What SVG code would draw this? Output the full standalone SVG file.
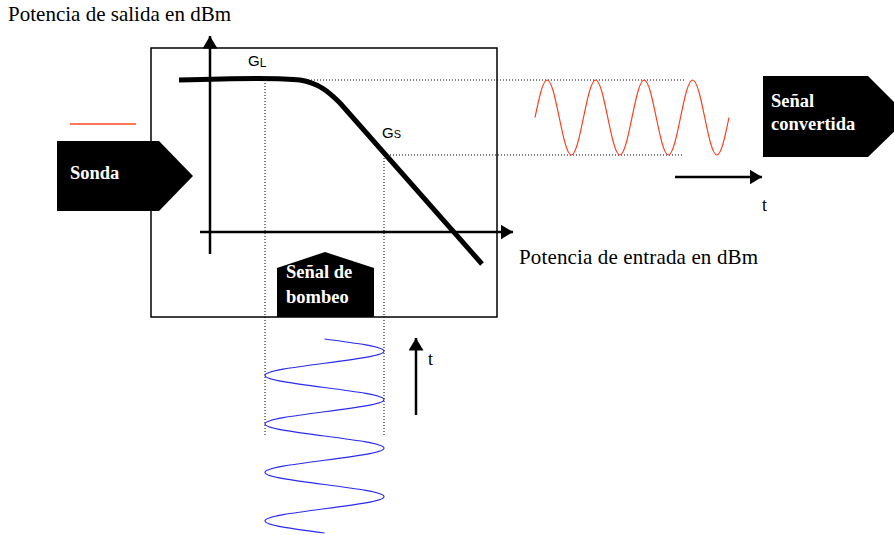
<svg xmlns="http://www.w3.org/2000/svg" width="894" height="535" viewBox="0 0 894 535">
<style>
.serif{font-family:"Liberation Serif","Times New Roman",serif;fill:#000}
.lbl{font-family:"Liberation Serif","Times New Roman",serif;font-weight:bold;font-size:18.5px;fill:#fff}
.sans{font-family:"Liberation Sans","DejaVu Sans",sans-serif;fill:#000}
.dot{stroke:#000;stroke-width:1;stroke-dasharray:1,2;fill:none}
.ax{stroke:#000;stroke-width:2.5;fill:none}
.shape{fill:#000}
</style>
<defs>
<marker id="ah" markerWidth="6" markerHeight="6" refX="5" refY="3" orient="auto" markerUnits="strokeWidth">
<path d="M0,0 L5,3 L0,6 Z" fill="#000"/>
</marker>
</defs>
<rect x="151" y="48" width="346" height="269" fill="none" stroke="#000" stroke-width="1.5"/>
<text class="serif" x="8" y="21" font-size="21" textLength="223">Potencia de salida en dBm</text>
<text class="serif" x="519" y="264" font-size="21" textLength="239">Potencia de entrada en dBm</text>
<g id="connectors">
<line class="dot" x1="305" y1="80" x2="686" y2="80"/>
<line class="dot" x1="384" y1="155" x2="683" y2="155"/>
<line class="dot" x1="265" y1="80" x2="265" y2="437"/>
<line class="dot" x1="384" y1="155" x2="384" y2="437"/>
<line class="ax" x1="210" y1="254" x2="210" y2="36" marker-end="url(#ah)"/>
<line class="ax" x1="200" y1="232" x2="513" y2="232" marker-end="url(#ah)"/>
<line class="ax" x1="675" y1="177" x2="762" y2="177" marker-end="url(#ah)"/>
<line class="ax" x1="416" y1="415" x2="416" y2="338" marker-end="url(#ah)"/>
<path d="M179,80 C240,78 285,78 300,80 C318,83 328,91 340,103 L482,264" fill="none" stroke="#000" stroke-width="5"/>
<line x1="70" y1="124" x2="136" y2="124" stroke="#ff4a1f" stroke-width="1.5"/>
<path d="M535,117.5 c3.954,-19.21 7.737,-37.5 12.125,-37.5 s8.171,18.29 12.125,37.5 s7.737,37.5 12.125,37.5 s8.171,-18.29 12.125,-37.5 s7.737,-37.5 12.125,-37.5 s8.171,18.29 12.125,37.5 s7.737,37.5 12.125,37.5 s8.171,-18.29 12.125,-37.5 s7.737,-37.5 12.125,-37.5 s8.171,18.29 12.125,37.5 s7.737,37.5 12.125,37.5 s8.171,-18.29 12.125,-37.5 s7.737,-37.5 12.125,-37.5 s8.171,18.29 12.125,37.5 s7.737,37.5 12.125,37.5 s8.171,-18.29 12.125,-37.5" fill="none" stroke="#ff3a1a" stroke-width="1.2"/>
<path d="M324.5,339 c30.48,3.954 59.5,7.737 59.5,12.125 s-29.02,8.171 -59.5,12.125 s-59.5,7.737 -59.5,12.125 s29.02,8.171 59.5,12.125 s59.5,7.737 59.5,12.125 s-29.02,8.171 -59.5,12.125 s-59.5,7.737 -59.5,12.125 s29.02,8.171 59.5,12.125 s59.5,7.737 59.5,12.125 s-29.02,8.171 -59.5,12.125 s-59.5,7.737 -59.5,12.125 s29.02,8.171 59.5,12.125 s59.5,7.737 59.5,12.125 s-29.02,8.171 -59.5,12.125 s-59.5,7.737 -59.5,12.125 s29.02,8.171 59.5,12.125" fill="none" stroke="#2b2bef" stroke-width="1.2"/>
</g>
<text class="sans" x="248" y="66" font-size="15">G<tspan font-size="12" dy="1">L</tspan></text>
<text class="sans" x="382" y="138" font-size="15">G<tspan font-size="11" dy="0">S</tspan></text>
<text class="serif" x="762" y="211" font-size="18">t</text>
<text class="serif" x="428" y="365" font-size="18">t</text>
<g id="sonda">
<path class="shape" d="M57,141 L159,141 L193,176 L159,211 L57,211 Z"/>
<text class="lbl" x="70" y="179">Sonda</text>
</g>
<g id="senal-convertida">
<path class="shape" d="M763,76 L868,76 L909,117 L868,157 L763,157 Z"/>
<text class="lbl" x="771" y="107">Señal</text>
<text class="lbl" x="771" y="130">convertida</text>
</g>
<g id="senal-bombeo">
<path class="shape" d="M277,268 L325,252 L374,268 L374,317 L277,317 Z"/>
<text class="lbl" x="286" y="278">Señal de</text>
<text class="lbl" x="286" y="303">bombeo</text>
</g>
</svg>
